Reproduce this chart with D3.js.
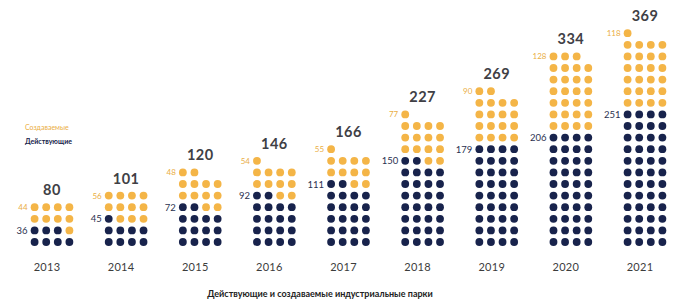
<!DOCTYPE html>
<html><head><meta charset="utf-8">
<script src="https://cdn.jsdelivr.net/npm/d3@7"></script>
<style>body{margin:0;background:#fff}svg{display:block}text{font-family:Lato,"Open Sans",sans-serif}</style>
</head><body>
<svg id="c" width="678" height="303"></svg>
<script>
const years = ["2013","2014","2015","2016","2017","2018","2019","2020","2021"];
const active = [36,45,72,92,111,150,179,206,251];
const creating = [44,56,48,54,55,77,90,128,118];
const totals = [80,101,120,146,166,227,269,334,369];
const activeDots = [7,9,14,18,22,30,36,40,48];
const creatingDots = [9,11,12,11,11,15,18,27,25];
const legendLabels = ["Создаваемые","Действующие"];
const title = "Действующие и создаваемые индустриальные парки";

const NAVY = "#18234c", ORANGE = "#f4b547", ORANGE_TXT = "#eaae44";
const svg = d3.select("#c");
const x = d3.scalePoint().domain(years).range([52, 645]);
const step = 11.6;
const y = d3.scaleLinear().domain([0, 18]).range([242, 242 - 18 * step]);
const colOff = d3.scaleLinear().domain([0, 3]).range([-1.5 * step, 1.5 * step]);

years.forEach((yr, i) => {
  const dots = [];
  for (let k = 0; k < activeDots[i] + creatingDots[i]; k++) {
    dots.push({k, c: k < activeDots[i] ? NAVY : ORANGE});
  }
  const g = svg.append("g");
  g.selectAll("circle").data(dots).join("circle")
    .attr("cx", d => x(yr) + colOff(d.k % 4))
    .attr("cy", d => y(Math.floor(d.k / 4)))
    .attr("r", 3.9)
    .attr("fill", d => d.c);
  const left = x(yr) + colOff(0) - 7;
  const navyRow = Math.floor((activeDots[i] - 1) / 4);
  const topRow = Math.floor((activeDots[i] + creatingDots[i] - 1) / 4);
  g.append("text").attr("x", left).attr("y", y(navyRow) + 3.5)
    .attr("text-anchor", "end").attr("font-size", 9.5).attr("fill", "#2b3150").text(active[i]);
  g.append("text").attr("x", left).attr("y", y(topRow) + 3)
    .attr("text-anchor", "end").attr("font-size", 8).attr("fill", ORANGE_TXT).text(creating[i]);
  g.append("text").attr("x", x(yr)).attr("y", y(topRow) - 12)
    .attr("text-anchor", "middle").attr("font-size", 14.5).attr("font-weight", 700)
    .attr("letter-spacing", 0.5).attr("fill", "#404045").text(totals[i]);
  g.append("text").attr("x", x(yr) - 5).attr("y", 271)
    .attr("text-anchor", "middle").attr("font-size", 11).attr("letter-spacing", 0.3)
    .attr("fill", "#3c3c3c").text(yr);
});

svg.append("text").attr("x", 25).attr("y", 130).attr("font-size", 7)
  .attr("fill", ORANGE_TXT).text(legendLabels[0]);
svg.append("text").attr("x", 25).attr("y", 144).attr("font-size", 7)
  .attr("font-weight", 700).attr("fill", NAVY).text(legendLabels[1]);
svg.append("text").attr("x", 320).attr("y", 297).attr("text-anchor", "middle")
  .attr("font-size", 9).attr("font-weight", 700).attr("fill", "#222").text(title);
</script>
</body></html>
